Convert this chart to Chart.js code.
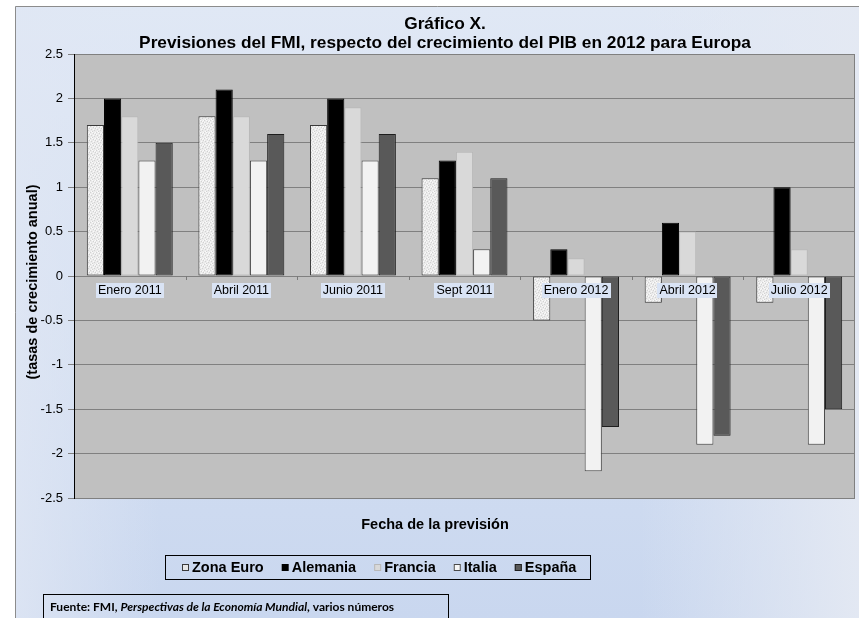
<!DOCTYPE html>
<html>
<head>
<meta charset="utf-8">
<script src="https://cdn.jsdelivr.net/npm/chart.js@4.4.1/dist/chart.umd.min.js"></script>
<style>
html,body{margin:0;padding:0;background:#fff;}
canvas{display:block;}
</style>
</head>
<body>
<canvas id="c" width="859" height="618"></canvas>
<script>
// ---- Data ----
const categories = ['Enero 2011','Abril 2011','Junio 2011','Sept 2011','Enero 2012','Abril 2012','Julio 2012'];
const seriesNames = ['Zona Euro','Alemania','Francia','Italia','España'];
const zonaEuro = [1.7, 1.8, 1.7, 1.1, -0.5, -0.3, -0.3];
const alemania = [2.0, 2.1, 2.0, 1.3, 0.3, 0.6, 1.0];
const francia  = [1.8, 1.8, 1.9, 1.4, 0.2, 0.5, 0.3];
const italia   = [1.3, 1.3, 1.3, 0.3, -2.2, -1.9, -1.9];
const espana   = [1.5, 1.6, 1.6, 1.1, -1.7, -1.8, -1.5];
const yTicks = [-2.5, -2, -1.5, -1, -0.5, 0, 0.5, 1, 1.5, 2, 2.5];
const yTickLabels = ['-2.5','-2','-1.5','-1','-0.5','0','0.5','1','1.5','2','2.5'];
const titleLines = ['Gráfico X.', 'Previsiones del FMI, respecto del crecimiento del PIB en 2012 para Europa'];
const yTitle = '(tasas de crecimiento anual)';
const xTitle = 'Fecha de la previsión';
const sourceParts = [['Fuente: FMI, ', false], ['Perspectivas de la Economía Mundial', true], [', varios números', false]];

const FONT = '"Liberation Sans", Arial, sans-serif';

// speckled texture for Zona Euro
function makeSpeckle() {
  const p = document.createElement('canvas');
  p.width = 6; p.height = 6;
  const g = p.getContext('2d');
  g.fillStyle = '#ebebeb'; g.fillRect(0, 0, 6, 6);
  const dark = [[0,0],[3,1],[1,3],[4,4],[5,2],[2,5]];
  const lite = [[2,0],[5,0],[0,2],[3,3],[1,5],[4,1]];
  g.fillStyle = '#d2d2d2'; dark.forEach(([x,y]) => g.fillRect(x, y, 1, 1));
  g.fillStyle = '#fafafa'; lite.forEach(([x,y]) => g.fillRect(x, y, 1, 1));
  return p;
}
const ctx0 = document.getElementById('c').getContext('2d');
const speckle = ctx0.createPattern(makeSpeckle(), 'repeat');

const styles = [
  {bg: speckle, border: '#3a3a3a', legendFill: '#e6e6e6'},
  {bg: '#000000', border: '#000000', legendFill: '#000000'},
  {bg: '#d9d9d9', border: '#b8b8b8', legendFill: '#d9d9d9'},
  {bg: '#f2f2f2', border: '#4a4a4a', legendFill: '#f7f7f7'},
  {bg: '#595959', border: '#1e1e1e', legendFill: '#595959'}
];
const seriesData = [zonaEuro, alemania, francia, italia, espana];

const datasets = seriesNames.map((n, i) => ({
  label: n,
  data: seriesData[i],
  backgroundColor: styles[i].bg,
  borderColor: styles[i].border,
  borderWidth: 1,
  borderSkipped: false,
  categoryPercentage: 0.77,
  barPercentage: 1.0
}));

const decor = {
  id: 'decor',
  beforeDraw(chart) {
    const c = chart.ctx, W = chart.width, H = chart.height;
    c.save();
    c.fillStyle = '#ffffff'; c.fillRect(0, 0, W, H);
    const g = c.createLinearGradient(0, 6, 0, H);
    g.addColorStop(0, '#e0e8f5');
    g.addColorStop(1, '#c9d7ef');
    c.fillStyle = g; c.fillRect(15, 6, W - 15, H - 6);
    const g2 = c.createLinearGradient(640, 0, W, 0);
    g2.addColorStop(0, 'rgba(228,233,243,0)');
    g2.addColorStop(1, 'rgba(228,233,243,0.95)');
    c.fillStyle = g2; c.fillRect(640, 6, W - 640, H - 6);
    const g3 = c.createLinearGradient(15, 0, 160, 0);
    g3.addColorStop(0, 'rgba(224,231,244,0.8)');
    g3.addColorStop(1, 'rgba(224,231,244,0)');
    c.fillStyle = g3; c.fillRect(15, 6, 145, H - 6);
    c.strokeStyle = '#8c8c8c'; c.lineWidth = 1;
    c.beginPath(); c.moveTo(15.5, H); c.lineTo(15.5, 6.5); c.lineTo(W, 6.5); c.stroke();
    const a = chart.chartArea;
    c.fillStyle = '#c0c0c0';
    c.fillRect(a.left, a.top, a.right - a.left, a.bottom - a.top);
    c.restore();
  },
  afterDatasetsDraw(chart) {
    const c = chart.ctx, a = chart.chartArea;
    const xs = chart.scales.x, ys = chart.scales.y;
    const zero = Math.round(ys.getPixelForValue(0));
    c.save();
    // right border
    c.strokeStyle = '#808080'; c.lineWidth = 1;
    c.beginPath(); c.moveTo(Math.round(a.right) - 0.5, a.top); c.lineTo(Math.round(a.right) - 0.5, a.bottom); c.stroke();
    // category boundary ticks
    const cw = (a.right - a.left) / categories.length;
    c.strokeStyle = '#7a7a7a';
    for (let i = 1; i < categories.length; i++) {
      const x = Math.round(a.left + i * cw) + 0.5;
      c.beginPath(); c.moveTo(x, zero); c.lineTo(x, zero + 4); c.stroke();
    }
    // category labels
    c.font = '12.5px ' + FONT;
    c.textAlign = 'center'; c.textBaseline = 'middle';
    categories.forEach((lab, i) => {
      const x = xs.getPixelForValue(i);
      const w = c.measureText(lab).width + 4;
      c.fillStyle = '#d9e3f4';
      c.fillRect(Math.round(x - w / 2), zero + 7, Math.round(w), 15);
      c.fillStyle = '#000';
      c.fillText(lab, x, zero + 15);
    });
    c.restore();
  },
  afterDraw(chart) {
    const c = chart.ctx;
    c.save();
    c.fillStyle = '#000';
    c.textAlign = 'center'; c.textBaseline = 'alphabetic';
    c.font = 'bold 17.3px ' + FONT;
    c.fillText(titleLines[0], 445, 29);
    c.fillText(titleLines[1], 445, 48);
    // x title
    c.font = 'bold 14.5px ' + FONT;
    c.textBaseline = 'middle';
    c.fillText(xTitle, 435, 525);
    // y title
    c.save();
    c.translate(33, 282);
    c.rotate(-Math.PI / 2);
    c.fillText(yTitle, 0, 0);
    c.restore();
    // legend
    c.strokeStyle = '#000'; c.lineWidth = 1;
    c.strokeRect(165.5, 555.5, 425, 24);
    c.font = 'bold 14.5px ' + FONT;
    c.textAlign = 'left';
    let x = 182;
    const ly = 567.5;
    seriesNames.forEach((n, i) => {
      c.fillStyle = styles[i].legendFill;
      c.fillRect(x, ly - 3.5, 7, 7);
      if (i !== 1) {
        c.strokeStyle = styles[i].border;
        c.strokeRect(x + 0.5, ly - 3, 6, 6);
      }
      c.fillStyle = '#000';
      c.fillText(n, x + 10, ly + 0.5);
      x += 10 + c.measureText(n).width + 18;
    });
    // source box
    c.strokeStyle = '#000';
    c.strokeRect(43.5, 594.5, 405, 24);
    let size = 12;
    const SF = 'Lato, "Open Sans", sans-serif';
    function totalW(s) {
      let t = 0;
      sourceParts.forEach(([txt, it]) => { c.font = (it ? 'italic ' : '') + 'bold ' + s + 'px ' + SF; t += c.measureText(txt).width; });
      return t;
    }
    while (size > 8 && totalW(size) > 380) size -= 0.25;
    let sx = 50;
    c.textBaseline = 'alphabetic';
    c.fillStyle = '#000';
    sourceParts.forEach(([txt, it]) => {
      c.font = (it ? 'italic ' : '') + 'bold ' + size + 'px ' + SF;
      c.fillText(txt, sx, 611);
      sx += c.measureText(txt).width;
    });
    c.restore();
  }
};

new Chart(document.getElementById('c'), {
  type: 'bar',
  data: { labels: categories, datasets },
  options: {
    responsive: false,
    animation: false,
    devicePixelRatio: 1,
    layout: { padding: { left: 0, top: 54, right: 4, bottom: 120 } },
    plugins: { legend: { display: false }, title: { display: false }, tooltip: { enabled: false } },
    scales: {
      x: {
        type: 'category',
        ticks: { display: false },
        grid: { display: false },
        border: { display: false },
        afterFit(s) { s.height = 0; }
      },
      y: {
        min: -2.5, max: 2.5,
        afterBuildTicks(s) { s.ticks = yTicks.map(v => ({ value: v })); },
        ticks: {
          font: { family: FONT, size: 13 },
          color: '#000',
          padding: 5,
          callback(v) { const i = yTicks.indexOf(v); return i >= 0 ? yTickLabels[i] : ''; }
        },
        grid: { color: '#808080', lineWidth: 1, tickLength: 6, tickColor: '#808080' },
        border: { color: '#000', width: 1 },
        afterFit(s) { s.width = 74; }
      }
    }
  },
  plugins: [decor]
});
</script>
</body>
</html>
